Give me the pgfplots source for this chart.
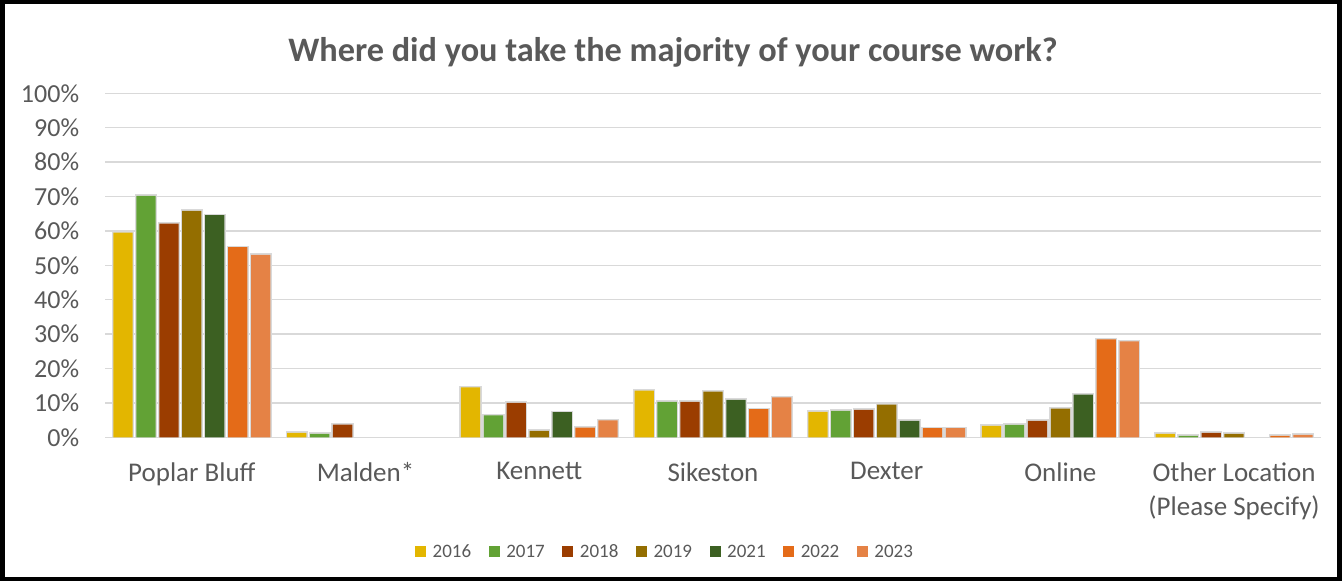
\documentclass[border=0pt]{standalone}
\usepackage{fontspec}
\setmainfont{Carlito}
\usepackage{pgfplots}
\pgfplotsset{compat=1.18}

\definecolor{txt}{HTML}{595959}
\definecolor{gridc}{HTML}{D9D9D9}
\definecolor{c16}{HTML}{E3B600}
\definecolor{c17}{HTML}{62A235}
\definecolor{c18}{HTML}{9B3D00}
\definecolor{c19}{HTML}{946E00}
\definecolor{c21}{HTML}{3C6022}
\definecolor{c22}{HTML}{E46B18}
\definecolor{c23}{HTML}{E58245}

\tikzset{halo/.style={preaction={draw=black!15, line width=3pt}}}

\begin{document}
\begin{tikzpicture}[x=1pt,y=1pt]
\useasboundingbox (0,0) rectangle (1344,581);
\draw[line width=4.5pt] (2.25,2.25) rectangle (1339.5,578.75);
\node[font=\fontsize{34.3}{40}\selectfont\bfseries, text=txt, anchor=base]
  at (673,519.3) {Where did you take the majority of your course work?};
\begin{axis}[
  at={(105pt,143.7pt)}, anchor=south west,
  scale only axis, width=1216pt, height=344pt,
  xmin=-0.5, xmax=6.5, ymin=0, ymax=100,
  ybar, bar width=0.111,
  axis x line*=bottom, axis y line*=left,
  x axis line style={gridc, line width=1.3pt},
  y axis line style={draw=none},
  major tick length=0pt,
  ymajorgrids, grid style={gridc, line width=1.3pt},
  ytick={0,10,...,100},
  yticklabel={\pgfmathprintnumber{\tick}\%},
  xtick={0,...,6},
  xticklabels={Poplar Bluff, Malden*, Kennett, Sikeston, Dexter, Online, {Other Location\\(Please Specify)}},
  /pgf/number format/assume math mode=true,
  yticklabel style={font=\fontsize{26}{33}\selectfont, text=txt, anchor=east, inner sep=0pt, xshift=-25.7pt},
  xticklabel style={font=\fontsize{27}{34}\selectfont, text=txt, anchor=north, align=center, inner sep=0pt, yshift=-25pt},
  legend columns=-1,
  legend style={at={(0.4597,-0.3326)}, anchor=center, draw=none, fill=none,
    font=\fontsize{19}{22}\selectfont, text=txt,
    nodes={inner xsep=0pt},
    /tikz/every odd column/.append style={column sep=6.6pt},
    /tikz/every even column/.append style={column sep=17.5pt}},
  legend image code/.code={\fill[#1] (0pt,-5.5pt) rectangle (11pt,5.5pt);},
]
\addlegendimage{fill=c16, draw=none}
\addlegendimage{fill=c17, draw=none}
\addlegendimage{fill=c18, draw=none}
\addlegendimage{fill=c19, draw=none}
\addlegendimage{fill=c21, draw=none}
\addlegendimage{fill=c22, draw=none}
\addlegendimage{fill=c23, draw=none}
\addplot[forget plot, fill=c16, draw=none, halo, bar shift=-0.396] coordinates {
  (0,59.5) (1,1.3) (2,14.5) (3,13.6) (4,7.4) (5,3.3) (6,1.0)};
\addplot[forget plot, fill=c17, draw=none, halo, bar shift=-0.264] coordinates {
  (0,70.2) (1,1.0) (2,6.4) (3,10.3) (4,7.7) (5,3.6) (6,0.4)};
\addplot[forget plot, fill=c18, draw=none, halo, bar shift=-0.132] coordinates {
  (0,62.1) (1,3.7) (2,10.0) (3,10.3) (4,8.0) (5,4.8) (6,1.3)};
\addplot[forget plot, fill=c19, draw=none, halo, bar shift=0] coordinates {
  (0,65.8) (2,1.9) (3,13.3) (4,9.5) (5,8.3) (6,1.0)};
\addplot[forget plot, fill=c21, draw=none, halo, bar shift=0.132] coordinates {
  (0,64.6) (2,7.3) (3,10.9) (4,4.8) (5,12.4)};
\addplot[forget plot, fill=c22, draw=none, halo, bar shift=0.264] coordinates {
  (0,55.3) (2,2.8) (3,8.2) (4,2.7) (5,28.5) (6,0.4)};
\addplot[forget plot, fill=c23, draw=none, halo, bar shift=0.396] coordinates {
  (0,53.0) (2,4.9) (3,11.6) (4,2.7) (5,27.9) (6,0.7)};
\legend{2016,2017,2018,2019,2021,2022,2023}
\end{axis}
\end{tikzpicture}
\end{document}
